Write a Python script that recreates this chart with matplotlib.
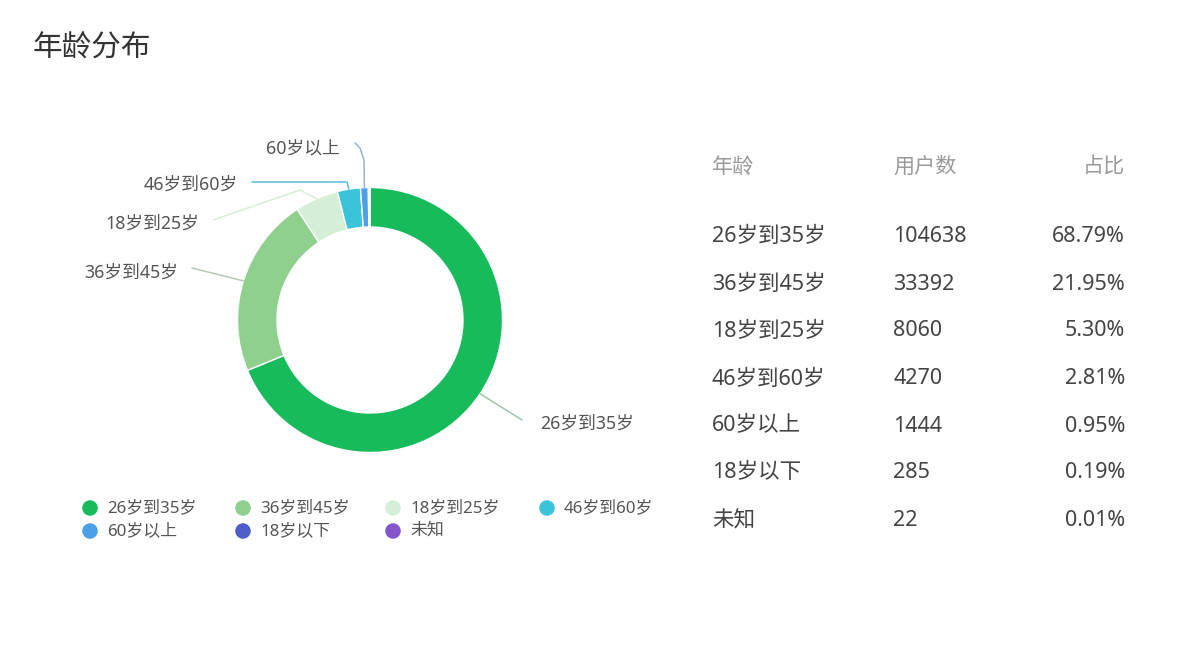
import numpy as np
import matplotlib
matplotlib.use("Agg")
import matplotlib.pyplot as plt

plt.rcParams['font.family'] = ['Noto Sans', 'Noto Sans CJK SC', 'DejaVu Sans']

# ---------------- data ----------------
title = "年龄分布"
categories = ["26岁到35岁", "36岁到45岁", "18岁到25岁", "46岁到60岁", "60岁以上", "18岁以下", "未知"]
users = [104638, 33392, 8060, 4270, 1444, 285, 22]
shares = ["68.79%", "21.95%", "5.30%", "2.81%", "0.95%", "0.19%", "0.01%"]
headers = ["年龄", "用户数", "占比"]
colors = ["#17bb5b", "#8fd08e", "#d5eed7", "#3bc3da", "#4ba0e6", "#4f5fc8", "#8456c9"]
line_colors = ["#9fc6ae", "#b7c9b9", "#dcebdd", "#56bcd3", "#98b3cf", None, None]

W, H = 1193, 670
fig = plt.figure(figsize=(W / 100, H / 100), dpi=100)
ax = fig.add_axes([0, 0, 1, 1])


def Y(py):
    return H - py


# ---------------- donut ----------------
cx, cy = 370, 320
r_out, ring = 132.5, 39.5
wedges, _ = ax.pie(users, colors=colors, startangle=90, counterclock=False,
                   radius=r_out, center=(cx, Y(cy)), frame=True,
                   wedgeprops=dict(width=ring, edgecolor="white", linewidth=1.0))

# label layout: (line points after anchor, text pos, ha) in pixel coords
label_layout = {
    0: ([(522, 420)], (540, 424), "left"),
    1: ([(192, 268)], (178, 273), "right"),
    2: ([(300, 190), (213, 220)], (199, 224), "right"),
    3: ([(347, 182), (252, 182)], (238, 185), "right"),
    4: ([(364, 160), (360, 148), (355, 143)], (340, 148), "right"),
}
for i, (pts, tpos, ha) in label_layout.items():
    w = wedges[i]
    mid = np.deg2rad((w.theta1 + w.theta2) / 2)
    ax_x = cx + r_out * np.cos(mid)
    ax_y = Y(cy) + r_out * np.sin(mid)
    xs = [ax_x] + [p[0] for p in pts]
    ys = [ax_y] + [Y(p[1]) for p in pts]
    ax.plot(xs, ys, color=line_colors[i], lw=1.1, solid_capstyle="round", zorder=1)
    ax.text(tpos[0], Y(tpos[1]), categories[i], ha=ha, va="center",
            fontsize=12.8, color="#555555")

# ---------------- legend ----------------
leg_x = [90, 243, 393, 547]
leg_y = [508, 531]
for i, (cat, col) in enumerate(zip(categories, colors)):
    r, c = divmod(i, 4)
    ax.scatter([leg_x[c]], [Y(leg_y[r])], s=125, color=col, edgecolors="none", zorder=3)
    ax.text(leg_x[c] + 17, Y(leg_y[r]), cat, ha="left", va="center",
            fontsize=12.2, color="#555555")

# ---------------- title ----------------
ax.text(33, Y(49), title, ha="left", va="center", fontsize=21.3, color="#333333")

# ---------------- table ----------------
col_x = [712, 893, 1125]
col_ha = ["left", "left", "right"]
head_y = 167
row_y = [236, 284, 331, 379, 426, 473, 521]
for h, x, ha in zip(headers, col_x, col_ha):
    ax.text(x, Y(head_y), h, ha=ha, va="center", fontsize=15.2, color="#9a9a9a")
for i in range(len(categories)):
    vals = [categories[i], str(users[i]), shares[i]]
    for v, x, ha in zip(vals, col_x, col_ha):
        ax.text(x, Y(row_y[i]), v, ha=ha, va="center", fontsize=15.5, color="#444444")

ax.set_xlim(0, W)
ax.set_ylim(0, H)
ax.set_aspect("equal")
ax.axis("off")

fig.savefig("out.png", dpi=100, facecolor="white")
